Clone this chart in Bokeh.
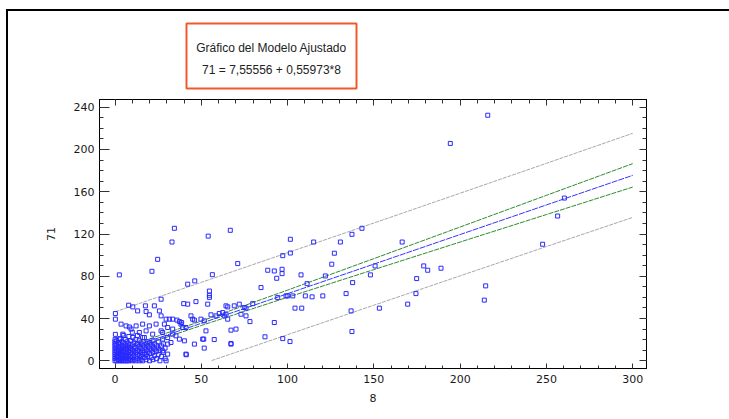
from bokeh.plotting import figure
from bokeh.layouts import column
from bokeh.models import LinearAxis, SingleIntervalTicker, Label
from bokeh.embed import file_html
from bokeh.resources import INLINE

# ---------------- data ----------------
title_line1 = "Gráfico del Modelo Ajustado"
title_line2 = "71 = 7,55556 + 0,55973*8"
x_label = "8"
y_label = "71"

# scattered observations (x = "8", y = "71")
obs_x = [
    24.7, 34.4, 33.0, 54.0, 66.8, 97.2, 101.6, 101.6,
    21.4, 2.5, 42.1, 46.2, 56.4, 54.7, 54.7, 54.7, 71.1,
    88.5, 92.3, 96.8, 96.8, 93.7, 84.6, 92.3, 86.9, 97.2, 101.4,
    67.2, 70.1, 67.2, 41.3, 51.7, 51.4, 57.5, 46.0,
    7.9, 10.3, 17.6, 13.1, 18.0, 19.9, 22.8, 25.7, 26.7, 0.2, 0.2, 3.5, 6.4, 8.3, 9.3,
    12.2, 16.0, 19.9, 23.8, 18.0, 14.1, 4.5, 0.2, 2.5, 10.3, 16.0, 21.8, 26.7, 27.6,
    39.8, 42.1, 46.9, 53.7, 65.3, 26.7, 29.6, 31.5, 33.4, 35.9, 37.3, 38.6, 44.0, 45.0,
    46.0, 49.8, 51.7, 55.6, 58.5, 60.4, 62.4, 63.3, 65.3, 28.6, 30.5, 33.4, 38.2, 39.2,
    41.1, 27.6, 30.5, 33.4, 35.3, 37.3, 40.2, 50.8, 52.7, 67.2, 30.5, 32.4, 27.6, 30.5,
    41.1, 29.6,
    99.1, 103.0, 94.3, 64.3, 69.1, 72.0, 74.9, 75.9, 79.8, 73.0, 75.9, 78.2, 64.3,
    115.1, 130.6, 166.4, 127.1, 125.6, 107.8, 121.9, 111.3, 137.7, 148.0, 150.7, 174.8,
    178.9, 181.2, 188.9, 174.4, 169.6, 214.8, 214.0, 153.2, 136.8, 137.3, 133.9, 120.4,
    114.2, 110.3, 100.1, 104.3, 108.2, 247.8,
    216.0, 194.3, 260.4, 256.5, 143.1, 137.3,
    0, 0, 0, 0, 0, 0, 0, 0, 0, 0, 0,
    1, 1, 1, 1, 1, 1, 1,
    2, 2, 2, 2, 2, 2, 2,
    3, 3, 3, 3, 3, 3, 3,
    4, 4, 4, 4, 4, 4, 4,
    5, 5, 5, 5, 5, 5, 5,
    6, 6, 6, 6, 6, 6, 6,
    7, 7, 7, 7, 7, 7,
    8, 8, 8, 8, 8, 8, 8,
    9, 9, 9, 9, 9,
    10, 10, 10, 10, 10, 10,
    11, 11, 11, 11, 11,
    12, 12, 12, 12, 12,
    13, 13, 13, 13, 13,
    14, 14, 14, 14, 14,
    15, 15, 15, 15, 15,
    16, 16, 16, 16,
    17, 17, 17, 17,
    18, 18, 18, 18,
    19, 19, 19, 19,
    20, 20, 20, 20,
    21, 21, 21,
    22, 22, 22, 22,
    23, 23, 23,
    24, 24, 24,
    25, 25, 25,
    26, 26, 27, 27, 28, 28, 29, 29,
]
obs_y = [
    96.0, 125.4, 112.4, 118.0, 123.5, 99.5, 115.0, 102.0,
    84.7, 81.3, 72.5, 75.6, 81.5, 66.0, 62.0, 60.0, 92.0,
    85.7, 85.0, 86.6, 82.5, 78.1, 69.3, 36.2, 22.7, 21.0, 18.2,
    29.0, 30.0, 16.4, 5.7, 12.0, 20.5, 20.1, 15.8,
    52.6, 51.0, 52.0, 47.2, 46.6, 43.5, 52.0, 47.2, 42.5, 44.7, 39.4, 34.7, 33.0, 32.0, 30.0,
    33.0, 34.7, 33.0, 34.7, 28.3, 26.8, 25.2, 25.0, 20.5, 22.0, 22.0, 25.2, 28.3, 20.5,
    54.1, 53.6, 56.0, 53.6, 51.0, 58.3, 39.4, 39.4, 39.4, 38.5, 37.1, 36.2, 42.5, 39.4,
    38.5, 39.4, 37.8, 43.5, 42.5, 44.7, 45.6, 42.5, 39.4, 34.7, 31.5, 30.0, 34.7, 31.5,
    31.5, 26.8, 22.0, 25.2, 23.6, 20.5, 18.9, 20.5, 28.3, 15.8, 15.8, 17.3, 9.4, 6.3,
    6.3, 0.0,
    61.4, 61.4, 59.8, 52.0, 52.0, 53.6, 50.4, 49.8, 54.1, 44.1, 42.5, 37.1, 44.1,
    112.4, 112.4, 112.4, 101.8, 91.4, 81.3, 80.3, 73.0, 74.0, 81.3, 89.8, 77.8,
    89.8, 85.7, 87.6, 63.6, 53.6, 70.9, 57.4, 49.8, 47.2, 27.7, 63.6, 61.4,
    60.5, 61.4, 61.4, 49.8, 49.8, 110.3,
    232.4, 205.7, 154.0, 137.0, 125.4, 119.7,
    0, 2, 4, 6, 8, 10, 12, 14, 16, 18, 20,
    0, 3, 5, 9, 11, 15, 19,
    0, 1, 4, 7, 10, 13, 17,
    0, 2, 6, 9, 12, 16, 21,
    0, 1, 5, 8, 11, 14, 18,
    0, 3, 6, 10, 13, 17, 24,
    0, 2, 5, 8, 12, 15, 20,
    0, 4, 7, 11, 14, 18,
    0, 2, 6, 9, 13, 16, 23,
    1, 4, 8, 12, 19,
    0, 3, 7, 10, 15, 27,
    1, 5, 9, 13, 17,
    0, 4, 8, 12, 20,
    2, 6, 10, 16, 24,
    0, 5, 9, 14, 19,
    1, 4, 8, 12, 17,
    0, 6, 10, 15,
    3, 8, 13, 22,
    1, 6, 11, 16,
    4, 9, 14, 18,
    0, 7, 12, 17,
    3, 10, 15,
    1, 8, 13, 19,
    5, 11, 16,
    2, 9, 14,
    6, 12, 18,
    0, 10, 4, 14, 8, 16, 2, 12,
]

# fitted line, confidence limits and prediction limits
fit_x = [0, 50, 100, 150, 200, 250, 300]
fit_y = [7.6, 35.5, 63.5, 91.5, 119.5, 147.5, 175.5]

conf_x = [0, 25, 50, 100, 150, 200, 250, 300]
conf_upper = [10.0, 23.5, 37.6, 66.9, 96.7, 126.6, 156.6, 186.6]
conf_lower = [5.2, 19.6, 33.4, 60.1, 86.3, 112.4, 138.4, 164.4]

pred_up_x = [0, 50, 100, 150, 200, 250, 300]
pred_upper = [46.4, 74.2, 102.3, 130.4, 158.6, 186.9, 215.3]
pred_low_x = [56, 100, 150, 200, 250, 300]
pred_lower = [0.2, 24.7, 52.6, 80.4, 108.1, 135.7]

x_ticks_interval = 50
y_ticks_interval = 40

FONT = "Liberation Sans"
TICK_FONT = "DejaVu Sans"

# ---------------- title strip (its own small figure; ranges in pixels) ----------------
t = figure(width=721, height=87, x_range=(0, 547), y_range=(0, 87),
           output_backend="svg", toolbar_location=None,
           x_axis_type=None, y_axis_type=None,
           min_border_left=91, min_border_right=83,
           min_border_top=0, min_border_bottom=0,
           background_fill_color="white", border_fill_color="white")
t.grid.visible = False
t.outline_line_color = None
t.quad(left=[87], right=[257], top=[75], bottom=[10],
       fill_color="white", line_color="#f05a28", line_width=2)
for txt, yy in ((title_line1, 51), (title_line2, 29)):
    t.add_layout(Label(x=172, y=yy, text=txt, text_align="center",
                       text_baseline="middle", text_font=FONT,
                       text_font_size="12px", text_color="#222222"))

# ---------------- main plot ----------------
p = figure(width=721, height=320, x_range=(-9, 308), y_range=(-7.3, 247.3),
           output_backend="svg", toolbar_location=None,
           min_border_left=91, min_border_right=83,
           min_border_top=1, min_border_bottom=50,
           background_fill_color="white", border_fill_color="white")
p.grid.visible = False
p.outline_line_color = "black"
p.outline_line_width = 1

xa = p.xaxis[0]
xa.ticker = SingleIntervalTicker(interval=x_ticks_interval, num_minor_ticks=5)
xa.axis_label = x_label
ya = p.yaxis[0]
ya.ticker = SingleIntervalTicker(interval=y_ticks_interval, num_minor_ticks=4)
ya.axis_label = y_label

for ax in (xa, ya):
    ax.axis_line_color = "black"
    ax.major_tick_line_color = "#333333"
    ax.minor_tick_line_color = "#333333"
    ax.major_tick_out = 0
    ax.minor_tick_out = 0
    ax.major_label_text_font = TICK_FONT
    ax.major_label_text_font_size = "11px"
    ax.major_label_text_color = "#1a1a1a"
    ax.axis_label_text_font = TICK_FONT
    ax.axis_label_text_font_size = "11px"
    ax.axis_label_text_font_style = "normal"
    ax.axis_label_text_color = "#1a1a1a"

xa.major_tick_in = 5
xa.minor_tick_in = 3
xa.major_label_standoff = 6
xa.axis_label_standoff = 8
ya.major_tick_in = 10
ya.minor_tick_in = 4
ya.major_label_standoff = 5
ya.axis_label_standoff = 16

top = LinearAxis(ticker=SingleIntervalTicker(interval=x_ticks_interval, num_minor_ticks=5))
right = LinearAxis(ticker=SingleIntervalTicker(interval=y_ticks_interval, num_minor_ticks=4))
for ax, maj, mn in ((top, 6, 4), (right, 7, 4)):
    ax.major_label_text_font_size = "0px"
    ax.major_label_text_color = None
    ax.axis_line_color = "black"
    ax.major_tick_line_color = "#333333"
    ax.minor_tick_line_color = "#333333"
    ax.major_tick_out = 0
    ax.minor_tick_out = 0
    ax.major_tick_in = maj
    ax.minor_tick_in = mn
    ax.major_label_standoff = 0
p.add_layout(top, "above")
p.add_layout(right, "right")

# prediction limits
p.line(pred_up_x, pred_upper, line_color="#a8a8a8", line_width=1, line_dash="4 1")
p.line(pred_low_x, pred_lower, line_color="#a8a8a8", line_width=1, line_dash="4 1")
# confidence limits
p.line(conf_x, conf_upper, line_color="#2e8b2e", line_width=1, line_dash="5 1")
p.line(conf_x, conf_lower, line_color="#2e8b2e", line_width=1, line_dash="5 1")
# fitted line
p.line(fit_x, fit_y, line_color="#3535ff", line_width=1, line_dash="6 1")

# observations
p.scatter(obs_x, obs_y, marker="square", size=4, fill_color=None,
          line_color="#2a2aff", line_width=1)

layout = column(t, p, spacing=0)
layout.styles = {"margin-left": "6px", "margin-top": "9px",
                 "border-left": "2px solid black", "border-top": "2px solid black"}

open("out.html", "w").write(file_html(layout, INLINE))
